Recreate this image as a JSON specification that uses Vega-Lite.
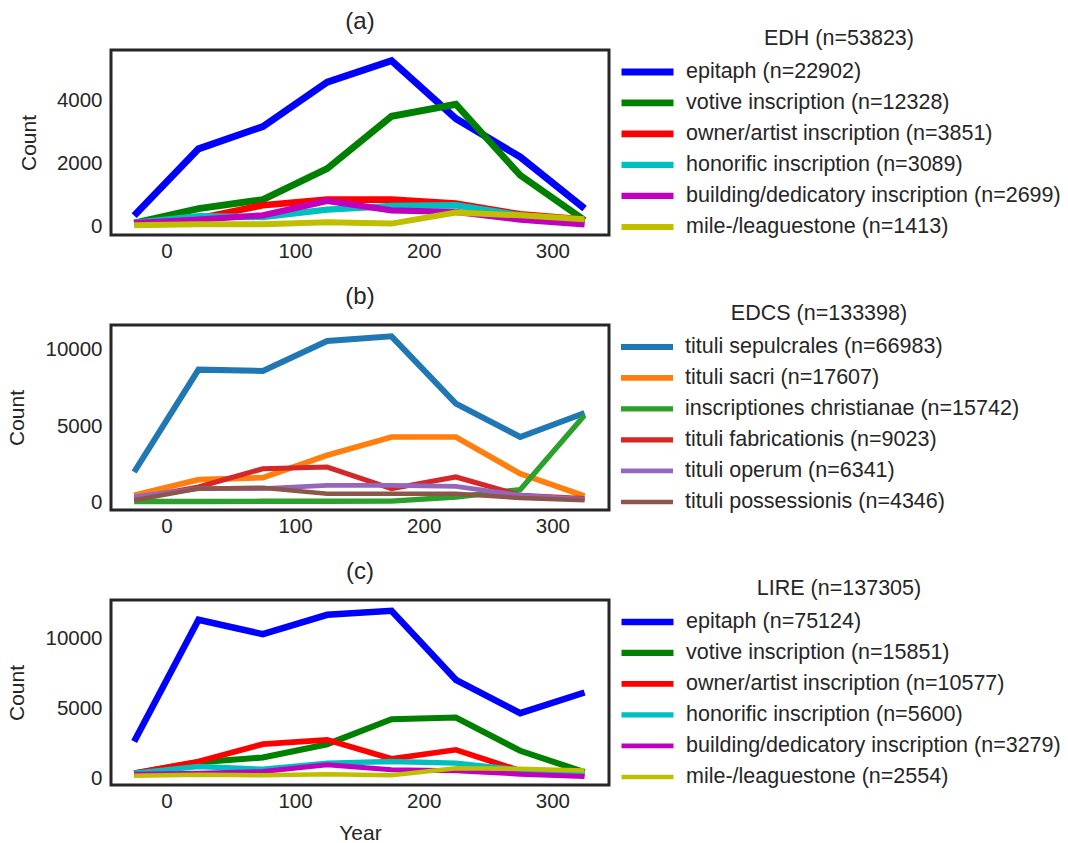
{
  "$schema": "https://vega.github.io/schema/vega-lite/v6.json",
  "padding": {"left": 5, "top": 8, "right": 0, "bottom": 0},
  "background": "white",
  "spacing": 20,
  "datasets": {
    "edh": [
      {"year": -25, "epitaph (n=22902)": 360, "votive inscription (n=12328)": 127, "owner/artist inscription (n=3851)": 127, "honorific inscription (n=3089)": 127, "building/dedicatory inscription (n=2699)": 127, "mile-/leaguestone (n=1413)": 54},
      {"year": 25, "epitaph (n=22902)": 2480, "votive inscription (n=12328)": 584, "owner/artist inscription (n=3851)": 267, "honorific inscription (n=3089)": 340, "building/dedicatory inscription (n=2699)": 235, "mile-/leaguestone (n=1413)": 86},
      {"year": 75, "epitaph (n=22902)": 3190, "votive inscription (n=12328)": 870, "owner/artist inscription (n=3851)": 689, "honorific inscription (n=3089)": 317, "building/dedicatory inscription (n=2699)": 371, "mile-/leaguestone (n=1413)": 86},
      {"year": 125, "epitaph (n=22902)": 4600, "votive inscription (n=12328)": 1854, "owner/artist inscription (n=3851)": 870, "honorific inscription (n=3089)": 552, "building/dedicatory inscription (n=2699)": 825, "mile-/leaguestone (n=1413)": 149},
      {"year": 175, "epitaph (n=22902)": 5280, "votive inscription (n=12328)": 3514, "owner/artist inscription (n=3851)": 870, "honorific inscription (n=3089)": 667, "building/dedicatory inscription (n=2699)": 530, "mile-/leaguestone (n=1413)": 108},
      {"year": 225, "epitaph (n=22902)": 3441, "votive inscription (n=12328)": 3895, "owner/artist inscription (n=3851)": 743, "honorific inscription (n=3089)": 689, "building/dedicatory inscription (n=2699)": 476, "mile-/leaguestone (n=1413)": 457},
      {"year": 275, "epitaph (n=22902)": 2222, "votive inscription (n=12328)": 1641, "owner/artist inscription (n=3851)": 403, "honorific inscription (n=3089)": 371, "building/dedicatory inscription (n=2699)": 235, "mile-/leaguestone (n=1413)": 371},
      {"year": 325, "epitaph (n=22902)": 584, "votive inscription (n=12328)": 213, "owner/artist inscription (n=3851)": 235, "honorific inscription (n=3089)": 159, "building/dedicatory inscription (n=2699)": 86, "mile-/leaguestone (n=1413)": 244}
    ],
    "edcs": [
      {"year": -25, "tituli sepulcrales (n=66983)": 2026, "tituli sacri (n=17607)": 501, "inscriptiones christianae (n=15742)": 100, "tituli fabricationis (n=9023)": 283, "tituli operum (n=6341)": 392, "tituli possessionis (n=4346)": 174},
      {"year": 25, "tituli sepulcrales (n=66983)": 8715, "tituli sacri (n=17607)": 1525, "inscriptiones christianae (n=15742)": 100, "tituli fabricationis (n=9023)": 1046, "tituli operum (n=6341)": 937, "tituli possessionis (n=4346)": 937},
      {"year": 75, "tituli sepulcrales (n=66983)": 8627, "tituli sacri (n=17607)": 1656, "inscriptiones christianae (n=15742)": 110, "tituli fabricationis (n=9023)": 2240, "tituli operum (n=6341)": 937, "tituli possessionis (n=4346)": 1002},
      {"year": 125, "tituli sepulcrales (n=66983)": 10588, "tituli sacri (n=17607)": 3115, "inscriptiones christianae (n=15742)": 110, "tituli fabricationis (n=9023)": 2353, "tituli operum (n=6341)": 1155, "tituli possessionis (n=4346)": 610},
      {"year": 175, "tituli sepulcrales (n=66983)": 10893, "tituli sacri (n=17607)": 4314, "inscriptiones christianae (n=15742)": 120, "tituli fabricationis (n=9023)": 937, "tituli operum (n=6341)": 1155, "tituli possessionis (n=4346)": 610},
      {"year": 225, "tituli sepulcrales (n=66983)": 6492, "tituli sacri (n=17607)": 4314, "inscriptiones christianae (n=15742)": 392, "tituli fabricationis (n=9023)": 1700, "tituli operum (n=6341)": 1089, "tituli possessionis (n=4346)": 610},
      {"year": 275, "tituli sepulcrales (n=66983)": 4314, "tituli sacri (n=17607)": 1917, "inscriptiones christianae (n=15742)": 871, "tituli fabricationis (n=9023)": 501, "tituli operum (n=6341)": 501, "tituli possessionis (n=4346)": 327},
      {"year": 325, "tituli sepulcrales (n=66983)": 5882, "tituli sacri (n=17607)": 458, "inscriptiones christianae (n=15742)": 5730, "tituli fabricationis (n=9023)": 283, "tituli operum (n=6341)": 240, "tituli possessionis (n=4346)": 174}
    ],
    "lire": [
      {"year": -25, "epitaph (n=75124)": 2633, "votive inscription (n=15851)": 359, "owner/artist inscription (n=10577)": 359, "honorific inscription (n=5600)": 359, "building/dedicatory inscription (n=3279)": 287, "mile-/leaguestone (n=2554)": 172},
      {"year": 25, "epitaph (n=75124)": 11363, "votive inscription (n=15851)": 1148, "owner/artist inscription (n=10577)": 1198, "honorific inscription (n=5600)": 839, "building/dedicatory inscription (n=3279)": 359, "mile-/leaguestone (n=2554)": 244},
      {"year": 75, "epitaph (n=75124)": 10330, "votive inscription (n=15851)": 1485, "owner/artist inscription (n=10577)": 2439, "honorific inscription (n=5600)": 646, "building/dedicatory inscription (n=3279)": 480, "mile-/leaguestone (n=2554)": 208},
      {"year": 125, "epitaph (n=75124)": 11721, "votive inscription (n=15851)": 2439, "owner/artist inscription (n=10577)": 2755, "honorific inscription (n=5600)": 1076, "building/dedicatory inscription (n=3279)": 961, "mile-/leaguestone (n=2554)": 287},
      {"year": 175, "epitaph (n=75124)": 12008, "votive inscription (n=15851)": 4232, "owner/artist inscription (n=10577)": 1392, "honorific inscription (n=5600)": 1198, "building/dedicatory inscription (n=3279)": 602, "mile-/leaguestone (n=2554)": 208},
      {"year": 225, "epitaph (n=75124)": 7059, "votive inscription (n=15851)": 4354, "owner/artist inscription (n=10577)": 2037, "honorific inscription (n=5600)": 1076, "building/dedicatory inscription (n=3279)": 531, "mile-/leaguestone (n=2554)": 717},
      {"year": 275, "epitaph (n=75124)": 4663, "votive inscription (n=15851)": 1966, "owner/artist inscription (n=10577)": 531, "honorific inscription (n=5600)": 602, "building/dedicatory inscription (n=3279)": 287, "mile-/leaguestone (n=2554)": 670},
      {"year": 325, "epitaph (n=75124)": 6148, "votive inscription (n=15851)": 430, "owner/artist inscription (n=10577)": 359, "honorific inscription (n=5600)": 316, "building/dedicatory inscription (n=3279)": 122, "mile-/leaguestone (n=2554)": 552}
    ]
  },
  "vconcat": [
    {
      "title": {"text": "(a)"},
      "width": 498,
      "height": 185,
      "data": {"name": "edh"},
      "transform": [{"fold": ["epitaph (n=22902)", "votive inscription (n=12328)", "owner/artist inscription (n=3851)", "honorific inscription (n=3089)", "building/dedicatory inscription (n=2699)", "mile-/leaguestone (n=1413)"], "as": ["series", "count"]}],
      "mark": {"type": "line", "clip": false},
      "encoding": {
        "x": {"field": "year", "type": "quantitative", "scale": {"domain": [-43, 344], "nice": false, "zero": false}, "axis": {"values": [0, 100, 200, 300], "title": null}},
        "y": {"field": "count", "type": "quantitative", "scale": {"domain": [-254, 5619], "nice": false, "zero": false}, "axis": {"values": [0, 2000, 4000], "format": "d", "title": "Count"}},
        "color": {"field": "series", "type": "nominal", "sort": null,
          "scale": {"domain": ["epitaph (n=22902)", "votive inscription (n=12328)", "owner/artist inscription (n=3851)", "honorific inscription (n=3089)", "building/dedicatory inscription (n=2699)", "mile-/leaguestone (n=1413)"], "range": ["#0000ff", "#008000", "#ff0000", "#00bfbf", "#bf00bf", "#bfbf00"]},
          "legend": {"title": "EDH (n=53823)"}},
        "strokeWidth": {"field": "series", "type": "nominal", "legend": null,
          "scale": {"domain": ["epitaph (n=22902)", "votive inscription (n=12328)", "owner/artist inscription (n=3851)", "honorific inscription (n=3089)", "building/dedicatory inscription (n=2699)", "mile-/leaguestone (n=1413)"], "range": [7, 6, 4.5, 4.5, 4, 4]}},
        "order": {"field": "year", "type": "quantitative"}
      }
    },
    {
      "title": {"text": "(b)"},
      "width": 498,
      "height": 185,
      "data": {"name": "edcs"},
      "transform": [{"fold": ["tituli sepulcrales (n=66983)", "tituli sacri (n=17607)", "inscriptiones christianae (n=15742)", "tituli fabricationis (n=9023)", "tituli operum (n=6341)", "tituli possessionis (n=4346)"], "as": ["series", "count"]}],
      "mark": {"type": "line", "clip": false},
      "encoding": {
        "x": {"field": "year", "type": "quantitative", "scale": {"domain": [-43, 344], "nice": false, "zero": false}, "axis": {"values": [0, 100, 200, 300], "title": null}},
        "y": {"field": "count", "type": "quantitative", "scale": {"domain": [-458, 11634], "nice": false, "zero": false}, "axis": {"values": [0, 5000, 10000], "format": "d", "title": "Count"}},
        "color": {"field": "series", "type": "nominal", "sort": null,
          "scale": {"domain": ["tituli sepulcrales (n=66983)", "tituli sacri (n=17607)", "inscriptiones christianae (n=15742)", "tituli fabricationis (n=9023)", "tituli operum (n=6341)", "tituli possessionis (n=4346)"], "range": ["#1f77b4", "#ff7f0e", "#2ca02c", "#d62728", "#9467bd", "#8c564b"]},
          "legend": {"title": "EDCS (n=133398)"}},
        "strokeWidth": {"field": "series", "type": "nominal", "legend": null,
          "scale": {"domain": ["tituli sepulcrales (n=66983)", "tituli sacri (n=17607)", "inscriptiones christianae (n=15742)", "tituli fabricationis (n=9023)", "tituli operum (n=6341)", "tituli possessionis (n=4346)"], "range": [6, 4.5, 3.5, 3.5, 4, 4]}},
        "order": {"field": "year", "type": "quantitative"}
      }
    },
    {
      "title": {"text": "(c)"},
      "width": 498,
      "height": 185,
      "data": {"name": "lire"},
      "transform": [{"fold": ["epitaph (n=75124)", "votive inscription (n=15851)", "owner/artist inscription (n=10577)", "honorific inscription (n=5600)", "building/dedicatory inscription (n=3279)", "mile-/leaguestone (n=2554)"], "as": ["series", "count"]}],
      "mark": {"type": "line", "clip": false},
      "encoding": {
        "x": {"field": "year", "type": "quantitative", "scale": {"domain": [-43, 344], "nice": false, "zero": false}, "axis": {"values": [0, 100, 200, 300], "title": "Year", "titlePadding": 11}},
        "y": {"field": "count", "type": "quantitative", "scale": {"domain": [-488, 12783], "nice": false, "zero": false}, "axis": {"values": [0, 5000, 10000], "format": "d", "title": "Count"}},
        "color": {"field": "series", "type": "nominal", "sort": null,
          "scale": {"domain": ["epitaph (n=75124)", "votive inscription (n=15851)", "owner/artist inscription (n=10577)", "honorific inscription (n=5600)", "building/dedicatory inscription (n=3279)", "mile-/leaguestone (n=2554)"], "range": ["#0000ff", "#008000", "#ff0000", "#00bfbf", "#bf00bf", "#bfbf00"]},
          "legend": {"title": "LIRE (n=137305)"}},
        "strokeWidth": {"field": "series", "type": "nominal", "legend": null,
          "scale": {"domain": ["epitaph (n=75124)", "votive inscription (n=15851)", "owner/artist inscription (n=10577)", "honorific inscription (n=5600)", "building/dedicatory inscription (n=3279)", "mile-/leaguestone (n=2554)"], "range": [6.5, 4.5, 4, 4, 3.5, 3.5]}},
        "order": {"field": "year", "type": "quantitative"}
      }
    }
  ],
  "resolve": {"scale": {"color": "independent", "strokeWidth": "independent", "x": "independent", "y": "independent"}, "legend": {"color": "independent", "strokeWidth": "independent"}},
  "config": {
    "font": "Liberation Sans",
    "view": {"stroke": "#262626", "strokeWidth": 3},
    "line": {"strokeJoin": "miter", "strokeCap": "butt"},
    "axis": {"grid": false, "ticks": false, "domain": false, "labelFontSize": 20.5, "labelColor": "#262626", "titleFontSize": 21, "titleFontWeight": "normal", "titleColor": "#262626"},
    "axisX": {"labelPadding": 6, "titlePadding": 8},
    "axisY": {"labelPadding": 9, "titlePadding": 17},
    "title": {"fontSize": 24, "fontWeight": "normal", "color": "#262626", "frame": "group", "anchor": "middle", "offset": -6},
    "legend": {"orient": "none", "legendX": 507, "legendY": -22, "symbolType": "stroke", "symbolSize": 2704, "symbolStrokeWidth": 10, "labelFontSize": 21.5, "titleFontSize": 21.5, "titleFontWeight": "normal", "titleAnchor": "middle", "labelColor": "#262626", "titleColor": "#262626", "labelOffset": 9, "rowPadding": 2, "clipHeight": 28.8, "titlePadding": 8, "labelLimit": 500}
  }
}
